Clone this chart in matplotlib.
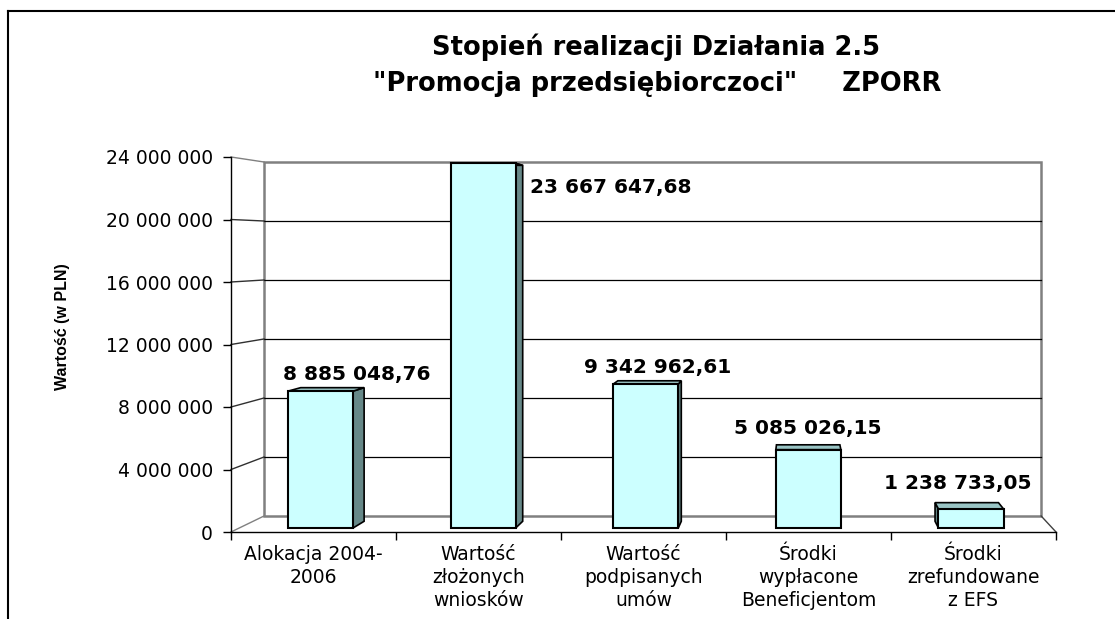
import matplotlib
matplotlib.use("Agg")
import matplotlib.pyplot as plt
from matplotlib.patches import Polygon
from matplotlib.lines import Line2D

# ---------------- data ----------------
categories = ["Alokacja 2004-\n2006", "Wartość\nzłożonych\nwniosków",
              "Wartość\npodpisanych\numów", "Środki\nwypłacone\nBeneficjentom",
              "Środki\nzrefundowane\nz EFS"]
values = [8885048.76, 23667647.68, 9342962.61, 5085026.15, 1238733.05]
yticks = [0, 4000000, 8000000, 12000000, 16000000, 20000000, 24000000]
title_line1 = "Stopień realizacji Działania 2.5"
title_line2 = '"Promocja przedsiębiorczoci"     ZPORR'
ylabel = "Wartość (w PLN)"

# ---------------- geometry / style ----------------
W, H, DPI = 1115, 619, 100
YMAX = 24000000
BACK_X0, BACK_XS = 0.20, 0.942      # back-wall x mapping (category units)
BACK_Y0, BACK_YS = 1.024e6, 0.944   # back-wall y mapping (value units)
D0, D1 = 0.25, 0.67                 # bar front / back depth
D_LABEL = 1.55                      # depth used to anchor value labels
BW = 0.40                           # bar width
FRONT, TOP, SIDE = "#CCFFFF", "#99C4C4", "#668888"
GRAY = "#808080"


def proj(u, v, d):
    x = u + d * (BACK_X0 + u * (BACK_XS - 1))
    y = v + d * (BACK_Y0 + v * (BACK_YS - 1))
    return (x, y)


def fmt(v):
    return f"{v:,.0f}".replace(",", " ")


def fmt2(v):
    return f"{v:,.2f}".replace(",", " ").replace(".", ",")


fig = plt.figure(figsize=(W / DPI, H / DPI), dpi=DPI)
fig.patch.set_facecolor("white")
ax = fig.add_axes([231 / W, (H - 532) / H, 825 / W, 375 / H])
n = len(categories)
ax.set_xlim(0, n)
ax.set_ylim(0, YMAX)
ax.patch.set_alpha(0)
for s in ["top", "right"]:
    ax.spines[s].set_visible(False)
ax.spines["left"].set_color("black")
ax.spines["bottom"].set_color("black")
ax.spines["left"].set_linewidth(1.0)
ax.spines["bottom"].set_linewidth(1.0)

# back wall
wall = [proj(0, 0, 1), proj(n, 0, 1), proj(n, YMAX, 1), proj(0, YMAX, 1)]
ax.add_patch(Polygon(wall, closed=True, facecolor="white", edgecolor=GRAY,
                     lw=1.8, zorder=1, clip_on=False))
for v in yticks[1:-1]:
    a, b = proj(0, v, 1), proj(n, v, 1)
    ax.add_line(Line2D([a[0], b[0]], [a[1], b[1]], color="black", lw=0.9, zorder=1.5, clip_on=False))
# left side wall lines
for v in yticks:
    a, b = proj(0, v, 0), proj(0, v, 1)
    ax.add_line(Line2D([a[0], b[0]], [a[1], b[1]], color="#303030" if 0 < v < YMAX else GRAY,
                       lw=1.0, zorder=1.5, clip_on=False))
# right floor edge
a, b = proj(n, 0, 0), proj(n, 0, 1)
ax.add_line(Line2D([a[0], b[0]], [a[1], b[1]], color="#404040", lw=1.0, zorder=1.5, clip_on=False))

# bars
for i, v in enumerate(values):
    c = i + 0.5
    l, r = c - BW / 2, c + BW / 2
    # side faces
    if BACK_X0 + r * (BACK_XS - 1) > 0:
        side = [proj(r, 0, D0), proj(r, 0, D1), proj(r, v, D1), proj(r, v, D0)]
        ax.add_patch(Polygon(side, closed=True, facecolor=SIDE, edgecolor="black",
                             lw=1.2, zorder=3, clip_on=False))
    if BACK_X0 + l * (BACK_XS - 1) < 0:
        side = [proj(l, 0, D0), proj(l, 0, D1), proj(l, v, D1), proj(l, v, D0)]
        ax.add_patch(Polygon(side, closed=True, facecolor=SIDE, edgecolor="black",
                             lw=1.2, zorder=3, clip_on=False))
    top = [proj(l, v, D0), proj(r, v, D0), proj(r, v, D1), proj(l, v, D1)]
    ax.add_patch(Polygon(top, closed=True, facecolor=TOP, edgecolor="black",
                         lw=1.2, zorder=3, clip_on=False))
    front = [proj(l, 0, D0), proj(r, 0, D0), proj(r, v, D0), proj(l, v, D0)]
    ax.add_patch(Polygon(front, closed=True, facecolor=FRONT, edgecolor="black",
                         lw=1.5, zorder=4, clip_on=False))
    # value label
    if v > 0.9 * YMAX:
        ax.annotate(fmt2(v), xy=proj(r, v, D1), xytext=(5, -16), textcoords="offset points",
                    ha="left", va="center", fontsize=14.5, fontweight="bold",
                    family="DejaVu Sans", zorder=6, annotation_clip=False)
    else:
        ax.annotate(fmt2(v), xy=proj(c, v, D_LABEL), xytext=(0, 4.5), textcoords="offset points",
                    ha="center", va="center", fontsize=14.5, fontweight="bold",
                    family="DejaVu Sans", zorder=6, annotation_clip=False)

# ticks
ax.set_yticks(yticks)
ax.set_yticklabels([fmt(t) for t in yticks], family="DejaVu Sans", fontsize=13.5)
ax.tick_params(axis="y", direction="out", length=6, width=1, pad=7)
ax.set_xticks(range(n + 1))
ax.set_xticklabels([""] * (n + 1))
ax.tick_params(axis="x", which="major", direction="out", length=6, width=1)
ax.set_xticks([i + 0.5 for i in range(n)], minor=True)
ax.set_xticklabels(categories, minor=True, family="DejaVu Sans", fontsize=13.5,
                   linespacing=1.3)
ax.tick_params(axis="x", which="minor", length=0, pad=9)

# titles and axis label
fig.text(656 / W, 1 - 47 / H, title_line1, ha="center", va="center",
         fontsize=18.5, fontweight="bold", family="DejaVu Sans")
fig.text(657 / W, 1 - 84 / H, title_line2, ha="center", va="center",
         fontsize=18.5, fontweight="bold", family="DejaVu Sans")
fig.text(63 / W, 1 - 327 / H, ylabel, rotation=90, ha="center", va="center",
         fontsize=11.5, fontweight="bold", family="Liberation Sans")

# outer frame
fig.add_artist(Line2D([8 / W, 8 / W], [0, 1 - 11 / H], transform=fig.transFigure,
                      color="black", lw=1.5))
fig.add_artist(Line2D([8 / W, 1], [1 - 11 / H, 1 - 11 / H], transform=fig.transFigure,
                      color="black", lw=1.5))

fig.savefig("out.png", dpi=DPI, facecolor="white")
